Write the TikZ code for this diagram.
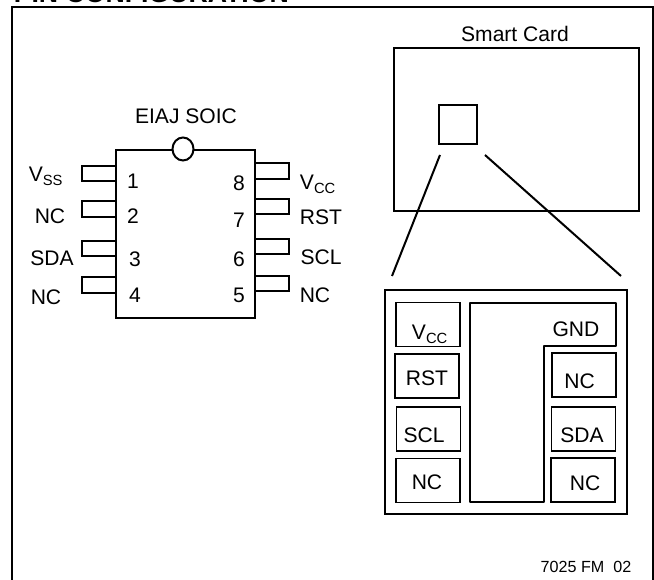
\documentclass[tikz,border=0pt]{standalone}
\usepackage{fontspec}
\setmainfont{Liberation Sans}
\begin{document}
\begin{tikzpicture}
  [x=0.75pt,y=-0.75pt,line width=1.2pt,
   every node/.style={inner sep=0pt,font=\fontsize{15.8pt}{18pt}\selectfont},
   padbox/.style={shape=rectangle,draw,minimum width=48pt,minimum height=33pt}]
\useasboundingbox (0,0) rectangle (654,580);
\clip (0,0) rectangle (654,580);
\node[anchor=base west,font=\fontsize{20pt}{22pt}\bfseries] (title) at (13,3) {PIN CONFIGURATION};
\coordinate (fa) at (12,590);
\coordinate (fb) at (12,7);
\coordinate (fc) at (653,7);
\coordinate (fd) at (653,590);
\draw[line width=1.6pt] (fa) -- (fb) -- (fc) -- (fd);
% package
\node[shape=rectangle,draw,minimum width=104.25pt,minimum height=126pt] (chip) at (185.5,234) {};
\foreach \n/\ya/\yb in {1/166/181,2/201/217,3/241/256,4/277/293}
  \draw (116,\ya) -- (82,\ya) -- (82,\yb) -- (116,\yb);
\foreach \n/\ya/\yb in {8/163/179,7/199/214,6/239/254,5/276/291}
  \draw (255,\ya) -- (289,\ya) -- (289,\yb) -- (255,\yb);
\draw[fill=white,line width=1.5pt] (183,149) ellipse (10.5 and 11.5);
\node (soic) at (186,116) {EIAJ SOIC};
\foreach \n/\x/\y in {1/133/181,2/133/216,3/135/259,4/135/295,8/239/183,7/239/220,6/239/259,5/239/295}
  \node (p\n) at (\x,\y) {\n};
\node (lvss) at (46,176) {V\textsubscript{SS}};
\node (lnca) at (50,216) {NC};
\node (lsda) at (52,258) {SDA};
\node (lncb) at (46,297) {NC};
\node (lvcc) at (318,184) {V\textsubscript{CC}};
\node (lrst) at (321,217) {RST};
\node (lscl) at (321,257) {SCL};
\node (lncc) at (315,295) {NC};
% card
\node (cardname) at (515,34) {Smart Card};
\node[shape=rectangle,draw,minimum width=183.75pt,minimum height=122.25pt] (card) at (516.5,129.5) {};
\node[shape=rectangle,draw,minimum width=28.5pt,minimum height=29.25pt] (module) at (458,124.5) {};
\coordinate (za) at (440,155);
\coordinate (zb) at (392,276);
\coordinate (zc) at (485,155);
\coordinate (zd) at (621,276);
\draw[line width=1.5pt] (za) -- (zb) (zc) -- (zd);
% contacts
\node[shape=rectangle,draw,minimum width=181.5pt,minimum height=168pt] (pads) at (506,402) {};
\foreach \name/\x/\y in {a/428/324.5,b/427/376,c/428.5/429,d/428/480.5,e/584/375,f/583.5/429,g/583/480}
  \node[padbox] (\name) at (\x,\y) {};
\coordinate (ga) at (470,303);
\coordinate (gb) at (616,303);
\coordinate (gc) at (616,346);
\coordinate (gd) at (544,346);
\coordinate (ge) at (544,502);
\coordinate (gf) at (470,502);
\draw[line width=1.6pt,line join=round] (ga) -- (gb) -- (gc) -- (gd) -- (ge) -- (gf) -- cycle;
\node (tvcc) at (430,334) {V\textsubscript{CC}};
\node (trst) at (427,378) {RST};
\node (tscl) at (424,435) {SCL};
\node (tnca) at (427,482) {NC};
\node (tgnd) at (576,329) {GND};
\node (tncb) at (579.5,381) {NC};
\node (tsda) at (582,435) {SDA};
\node (tncc) at (585,483) {NC};
\node[font=\fontsize{12.1pt}{14pt}\selectfont] (code) at (586,567) {7025 FM\ \ 02};
\end{tikzpicture}
\end{document}
